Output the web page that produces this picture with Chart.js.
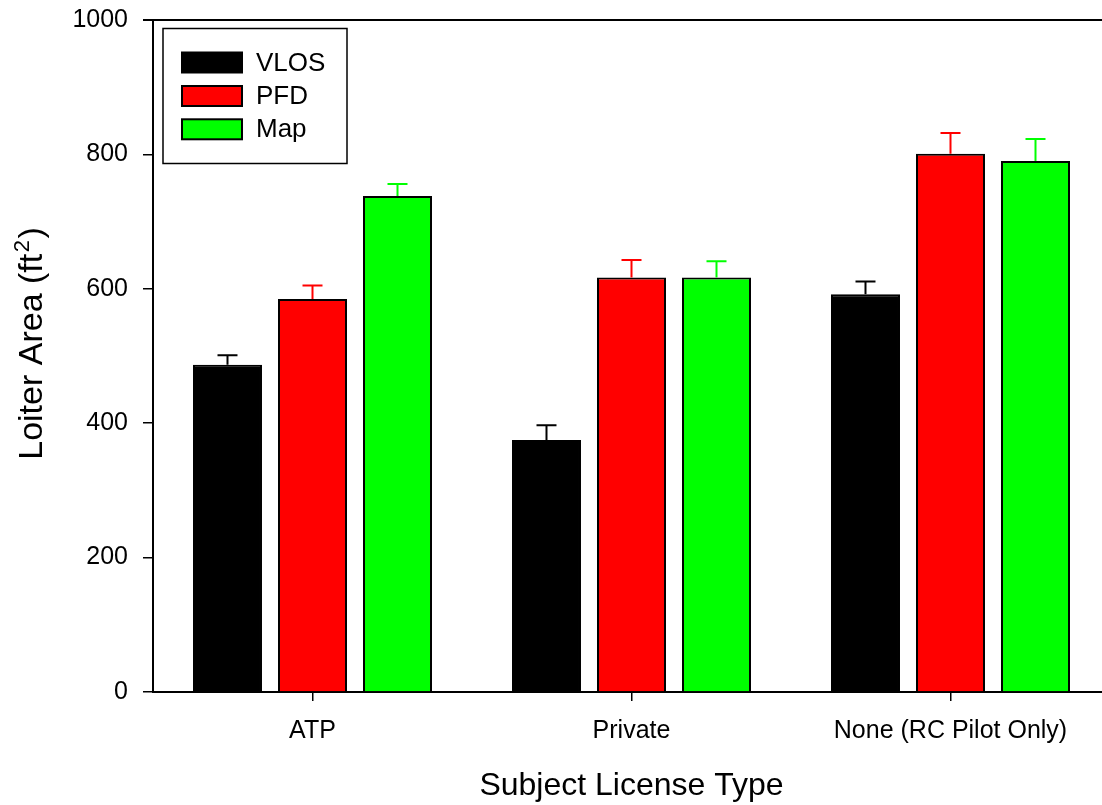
<!DOCTYPE html>
<html><head><meta charset="utf-8">
<script src="https://cdn.jsdelivr.net/npm/chart.js@4.4.1/dist/chart.umd.min.js"></script>
<style>
html,body{margin:0;padding:0;background:#fff;overflow:hidden;}
#wrap{position:relative;width:1110px;height:805px;}
</style></head><body>
<div id="wrap"><canvas id="c"></canvas></div>
<script>
const categories = ['ATP', 'Private', 'None (RC Pilot Only)'];
const seriesNames = ['VLOS', 'PFD', 'Map'];
const vlosValues = [487, 375, 592];
const pfdValues = [585, 617, 801];
const mapValues = [738, 617, 790];
const vlosErr = [14, 22, 19];
const pfdErr = [20, 26, 31];
const mapErr = [18, 24, 33];
const yTickValues = [0, 200, 400, 600, 800, 1000];
const seriesColors = ['#000000', '#ff0000', '#00ff00'];
const xTitle = 'Subject License Type';
const yTitleMain = 'Loiter Area (ft';
const yTitleSup = '2';
const yTitleEnd = ')';

const FONT = "'Liberation Sans', Arial, sans-serif";
const values = [vlosValues, pfdValues, mapValues];
const errors = [vlosErr, pfdErr, mapErr];

const errorBarPlugin = {
  id: 'errorBars',
  afterDatasetsDraw(chart) {
    const ctx = chart.ctx;
    const yScale = chart.scales.y;
    chart.data.datasets.forEach((ds, i) => {
      const meta = chart.getDatasetMeta(i);
      meta.data.forEach((el, j) => {
        const v = ds.data[j];
        const e = ds.errors[j];
        const yTop = yScale.getPixelForValue(v + e);
        const yBar = yScale.getPixelForValue(v);
        ctx.save();
        ctx.strokeStyle = ds.backgroundColor;
        ctx.lineWidth = 2;
        ctx.beginPath();
        ctx.moveTo(el.x, yBar);
        ctx.lineTo(el.x, yTop);
        ctx.moveTo(el.x - 10, yTop);
        ctx.lineTo(el.x + 10, yTop);
        ctx.stroke();
        ctx.restore();
      });
    });
  }
};

const framePlugin = {
  id: 'frame',
  afterDraw(chart) {
    const ctx = chart.ctx;
    const a = chart.chartArea;
    ctx.save();
    ctx.strokeStyle = '#000';
    ctx.lineWidth = 2;
    ctx.beginPath();
    ctx.moveTo(a.left - 10, a.top);
    ctx.lineTo(chart.width, a.top);
    ctx.stroke();
    // y-axis title with superscript
    ctx.fillStyle = '#000';
    ctx.translate(42, 343.5);
    ctx.rotate(-Math.PI / 2);
    ctx.textBaseline = 'alphabetic';
    ctx.font = '34px ' + FONT;
    const w1 = ctx.measureText(yTitleMain).width;
    const w3 = ctx.measureText(yTitleEnd).width;
    ctx.font = '22px ' + FONT;
    const w2 = ctx.measureText(yTitleSup).width;
    const total = w1 + w2 + w3 + 3;
    let x = -total / 2;
    ctx.font = '34px ' + FONT;
    ctx.textAlign = 'left';
    ctx.fillText(yTitleMain, x, 0);
    x += w1 + 1.5;
    ctx.font = '22px ' + FONT;
    ctx.fillText(yTitleSup, x, -13);
    x += w2 + 1.5;
    ctx.font = '34px ' + FONT;
    ctx.fillText(yTitleEnd, x, 0);
    ctx.restore();
  }
};

const legendPlugin = {
  id: 'boxLegend',
  afterDatasetsDraw(chart) {
    const ctx = chart.ctx;
    ctx.save();
    ctx.fillStyle = '#fff';
    ctx.fillRect(163, 28.5, 184, 135);
    ctx.strokeStyle = '#000';
    ctx.lineWidth = 1.5;
    ctx.strokeRect(163, 28.5, 184, 135);
    const rows = [62.5, 96, 129.3];
    chart.data.datasets.forEach((ds, i) => {
      const cy = rows[i];
      ctx.fillStyle = ds.backgroundColor;
      ctx.fillRect(182, cy - 10, 60, 20);
      ctx.lineWidth = 2;
      ctx.strokeStyle = '#000';
      ctx.strokeRect(182, cy - 10, 60, 20);
      ctx.fillStyle = '#000';
      ctx.font = '26px ' + FONT;
      ctx.textBaseline = 'middle';
      ctx.textAlign = 'left';
      ctx.fillText(ds.label, 256, cy + 1);
    });
    ctx.restore();
  }
};

const datasets = seriesNames.map((name, i) => ({
  label: name,
  data: values[i],
  errors: errors[i],
  backgroundColor: seriesColors[i],
  borderColor: '#000000',
  borderWidth: 2,
  borderSkipped: 'start',
  categoryPercentage: 0.7994,
  barPercentage: 0.8118
}));

new Chart(document.getElementById('c'), {
  type: 'bar',
  data: { labels: categories, datasets },
  options: {
    responsive: true,
    maintainAspectRatio: false,
    devicePixelRatio: 1,
    animation: false,
    layout: { padding: { top: 20, right: 0, bottom: 0, left: 0 } },
    plugins: {
      legend: { display: false },
      tooltip: { enabled: false },
      title: { display: false }
    },
    scales: {
      x: {
        offset: true,
        grid: { display: true, drawOnChartArea: false, offset: false, tickLength: 9, color: '#000', lineWidth: 1.5 },
        border: { display: true, color: '#000', width: 2 },
        ticks: { color: '#000', font: { family: FONT, size: 25 }, padding: 15, maxRotation: 0, autoSkip: false },
        title: { display: true, text: xTitle, color: '#000', font: { family: FONT, size: 32 }, padding: { top: 3, bottom: 0 } },
        afterFit(scale) { scale.height = 113; scale.paddingLeft = 0; scale.paddingRight = 0; }
      },
      y: {
        min: 0,
        max: 1000,
        afterBuildTicks(scale) { scale.ticks = yTickValues.map(v => ({ value: v })); },
        grid: { display: true, drawOnChartArea: false, tickLength: 10, color: '#000', lineWidth: 1.5 },
        border: { display: true, color: '#000', width: 2 },
        ticks: { color: '#000', font: { family: FONT, size: 25 }, padding: 15, callback: (v) => String(v) },
        title: { display: false },
        afterFit(scale) { scale.width = 153; scale.paddingTop = 0; scale.paddingBottom = 0; }
      }
    }
  },
  plugins: [errorBarPlugin, legendPlugin, framePlugin]
});
</script>
</body></html>
